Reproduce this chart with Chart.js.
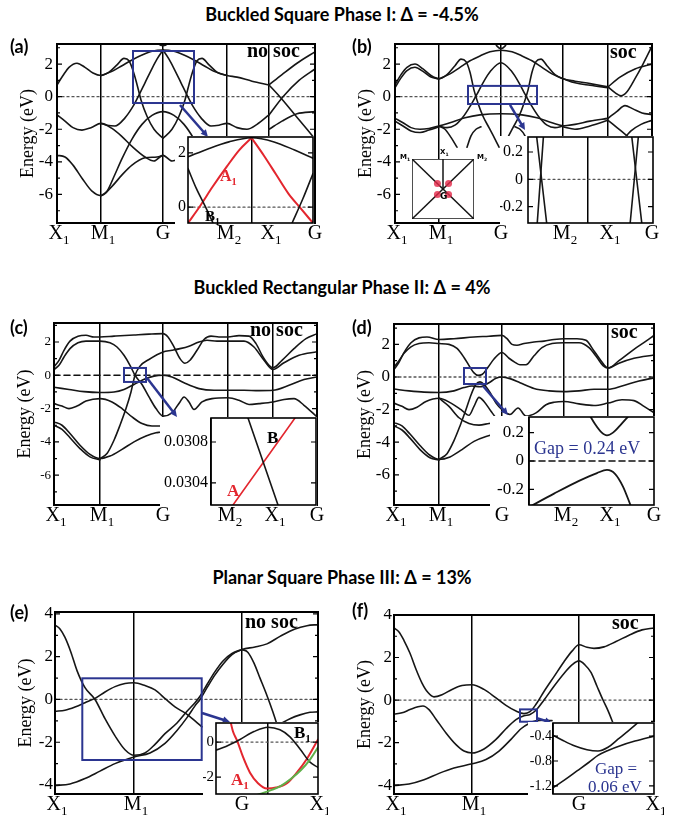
<!DOCTYPE html>
<html>
<head>
<meta charset="utf-8">
<script src="https://cdn.jsdelivr.net/npm/chart.js@4.4.0/dist/chart.umd.min.js"></script>
<style>
  body { margin: 0; background: #fff; width: 684px; height: 821px; position: relative; overflow: hidden; font-family: "Liberation Serif", serif; }
  canvas { position: absolute; }
  .t { position: absolute; white-space: nowrap; line-height: 1; z-index: 10; }
  .head { font-family: Lato, "Open Sans", sans-serif; font-weight: 700; font-size: 18px; left: 0; width: 684px; text-align: center; }
  .pl { font-family: Lato, "Open Sans", sans-serif; font-weight: 700; font-size: 18px; }
  .soc { font-weight: 700; font-size: 20px; }
  .lab { font-weight: 700; font-size: 16px; }
  .lab sub, .bz sub { font-size: 0.65em; }
  .gap { color: #2b3590; font-size: 18px; }
  .bz { font-family: "DejaVu Sans", sans-serif; font-weight: 700; font-size: 7px; }
</style>
</head>
<body>
<div class="t head" style="top:5px">Buckled Square Phase I: Δ = -4.5%</div>
<div class="t head" style="top:278px">Buckled Rectangular Phase II: Δ = 4%</div>
<div class="t head" style="top:568px">Planar Square Phase III: Δ = 13%</div>
<div class="t pl" style="left:10px;top:37px">(a)</div>
<div class="t pl" style="left:352px;top:37px">(b)</div>
<div class="t pl" style="left:10px;top:318px">(c)</div>
<div class="t pl" style="left:352px;top:318px">(d)</div>
<div class="t pl" style="left:10px;top:603px">(e)</div>
<div class="t pl" style="left:352px;top:601px">(f)</div>
<div class="t soc" style="left:247px;top:40px">no soc</div>
<div class="t soc" style="left:610px;top:41px">soc</div>
<div class="t soc" style="left:250px;top:319px">no soc</div>
<div class="t soc" style="left:611px;top:321px">soc</div>
<div class="t soc" style="left:245px;top:611px">no soc</div>
<div class="t soc" style="left:612px;top:612px">soc</div>
<div class="t lab" style="left:220px;top:168px;color:#e3262e">A<sub>1</sub></div>
<div class="t lab" style="left:205px;top:209px;font-size:15px">B<sub>1</sub></div>
<div class="t lab" style="left:267px;top:429px;font-size:17px">B</div>
<div class="t lab" style="left:227px;top:482px;font-size:17px;color:#e3262e">A</div>
<div class="t gap" style="left:534px;top:439px">Gap = 0.24 eV</div>
<div class="t lab" style="left:231px;top:771px;font-size:17px;color:#e3262e">A<sub>1</sub></div>
<div class="t lab" style="left:294px;top:724px;font-size:17px">B<sub>1</sub></div>
<div class="t gap" style="left:595px;top:760px;font-size:17px">Gap =</div>
<div class="t gap" style="left:588px;top:778px;font-size:17px">0.06 eV</div>
<div class="t bz" style="left:400px;top:154px">M<sub>1</sub></div>
<div class="t bz" style="left:440px;top:149px">X<sub>1</sub></div>
<div class="t bz" style="left:477px;top:154px">M<sub>2</sub></div>
<div class="t bz" style="left:440px;top:192px;font-size:9px">G</div>
<script>
var SERIF = '"Liberation Serif","DejaVu Serif",serif';
var BLACK = '#161616', RED = '#e3262e', GREEN = '#5fb04a', BLUE = '#2b3590';

// ---- tick positions / labels (k in px units along the path)
var sqTicks = [0, 44, 106, 170, 212, 258];
var sqTicksB = [0, 44, 106, 168, 213, 257];
var sqLabels = ['X1', 'M1', 'G', 'M2', 'X1', 'G'];
var rcTicks = [0, 46, 109, 174, 219, 263];
var rcTicksD = [0, 45, 108, 170, 214, 260];
var plTicks = [0, 79, 187, 263];
var plTicksF = [0, 78, 185, 260];
var plLabels = ['X1', 'M1', 'G', 'X1'];
var eTicksBuckled = [-6, -4, -2, 0, 2];
var eTicksPlanar = [-4, -2, 0, 2, 4];

// ---- (a) Buckled square, no soc
var aBands = [
  [[0,0.72],[6,1.3],[12,1.8],[20,2.05],[28,1.8],[36,1.45],[44,1.3],[52,1.5],[60,1.95],[67,2.35],[72,2.2],[76,1.6],[80,0.75],[84,-0.2],[90,-1.2],[97,-2.0],[106,-2.55]],
  [[106,-2.55],[115,-2.0],[122,-1.2],[128,-0.2],[132,0.75],[136,1.6],[140,2.2],[145,2.35],[152,1.95],[160,1.5],[170,1.3],[180,1.2],[195,0.95],[212,0.72]],
  [[44,1.3],[55,1.55],[65,1.9],[75,2.25],[85,2.55],[95,2.78],[106,2.86],[117,2.78],[127,2.55],[137,2.25],[147,1.9],[157,1.55],[170,1.3]],
  [[44,-1.64],[50,-1.75],[58,-1.8],[68,-1.3],[76,-0.6],[82,0.1],[88,0.85],[94,1.6],[100,2.3],[106,2.86]],
  [[106,2.86],[112,2.3],[118,1.6],[124,0.85],[130,0.1],[136,-0.6],[144,-1.3],[154,-1.8],[162,-1.75],[170,-1.64],[180,-1.9],[190,-2.0],[200,-1.7],[212,-1.12]],
  [[0,-1.12],[8,-1.5],[16,-1.9],[25,-2.05],[34,-1.9],[44,-1.64],[55,-1.95],[65,-2.45],[75,-3.05],[88,-3.7],[97,-3.95],[106,-3.6],[115,-3.95],[124,-3.7],[137,-3.05]],
  [[0,-3.6],[8,-3.7],[16,-4.2],[25,-5.0],[35,-5.8],[44,-6.07],[55,-5.5],[65,-4.8],[75,-4.2],[88,-3.75],[100,-3.7],[106,-3.6]],
  [[44,-6.07],[50,-5.8],[57,-4.9],[65,-3.8],[75,-2.6],[85,-1.7],[95,-1.15],[106,-0.92],[117,-1.15],[127,-1.7],[137,-2.6],[147,-3.8]],
  [[212,0.72],[225,1.35],[240,2.05],[258,2.75]],
  [[212,0.72],[222,0.05],[235,-0.9],[250,-2.0],[258,-2.6]],
  [[212,-1.12],[226,0.0],[242,1.0],[258,1.7]],
  [[212,-2.0],[225,-1.5],[240,-1.05],[258,-0.92]],
  [[96,3.6],[101,3.25],[106,3.12],[111,3.25],[116,3.6]]
];
var aInsetBlack = [
  [[75,1.85],[85,2.15],[95,2.4],[106,2.55],[117,2.4],[127,2.1],[136,1.8]],
  [[75,1.42],[79,0.7],[83.6,0],[87.2,-0.58]],
  [[125.8,-0.58],[131,0.3],[136,1.24]]
];
var aInsetRed = [
  [[75,-0.58],[80.5,0],[87,0.75],[94,1.5],[100,2.1],[106,2.55]],
  [[106,2.55],[112,1.9],[118,1.2],[124,0.5],[129.5,0],[136,-0.58]]
];

// ---- (b) Buckled square, soc
var bBands = [
  [[0,0.72],[6,1.35],[12,1.8],[20,2.0],[28,1.7],[36,1.3],[44,1.1],[52,1.35],[60,1.9],[66,2.3],[71,2.15],[75,1.5],[79,0.4],[83,-0.4],[88,-1.2],[94,-1.9],[100,-2.6],[104,-3.1]],
  [[108,-3.1],[112,-2.6],[118,-1.9],[124,-1.2],[129,-0.4],[133,0.4],[137,1.5],[141,2.15],[146,2.3],[152,1.9],[160,1.35],[168,1.1],[180,0.95],[195,0.8],[213,0.6]],
  [[0,0.55],[6,1.15],[12,1.6],[20,1.8],[28,1.55],[36,1.2],[44,1.1]],
  [[168,1.1],[180,0.85],[195,0.7],[213,0.55]],
  [[44,1.1],[55,1.4],[65,1.8],[75,2.2],[85,2.5],[95,2.75],[106,2.85],[117,2.75],[127,2.5],[137,2.2],[147,1.8],[157,1.4],[168,1.1]],
  [[44,-1.8],[52,-1.9],[60,-1.75],[68,-1.25],[76,-0.5],[82,0.15],[88,0.85],[96,1.6],[106,2.08],[116,1.6],[124,0.85],[130,0.15],[136,-0.5],[144,-1.25],[152,-1.75],[160,-1.9],[168,-1.8]],
  [[0,-1.33],[8,-1.6],[16,-1.9],[25,-2.0],[34,-1.95],[44,-1.8]],
  [[0,-1.5],[8,-1.8],[16,-2.1],[25,-2.2],[34,-2.05],[44,-1.85]],
  [[44,-1.8],[50,-2.0],[56,-2.5],[62,-3.1]],
  [[44,-1.8],[55,-1.6],[70,-1.3],[85,-1.12],[106,-1.05],[127,-1.12],[142,-1.3],[157,-1.6],[168,-1.8]],
  [[168,-1.8],[180,-1.7],[195,-1.5],[213,-1.33]],
  [[168,-1.85],[180,-2.0],[195,-1.8],[213,-1.45]],
  [[213,0.6],[220,0.25],[226,0.05],[232,0.3],[240,1.1],[248,2.0],[257,3.1]],
  [[213,0.6],[225,1.2],[240,1.7],[257,2.0]],
  [[213,-1.33],[222,-0.9],[230,-0.55],[238,-0.75],[247,-1.0],[257,-1.1]],
  [[213,-1.45],[222,-1.9],[232,-2.4],[240,-2.8]],
  [[226,-2.8],[236,-2.1],[246,-1.7],[257,-1.45]],
  [[98,3.5],[102,3.1],[106,2.95],[110,3.1],[114,3.5]],
  [[72,-3.1],[76,-2.4],[81,-2.0],[86,-1.85]],
  [[120,-1.85],[125,-2.0],[130,-2.4],[134,-3.1]]
];
var bInset = [
  [[77.8,0.31],[83.3,-0.32]], [[78.1,-0.32],[81.5,0.31]],
  [[130.3,0.31],[135.8,-0.32]], [[129.4,-0.32],[133.9,0.31]]
];
var bzFrame = [[0,0],[1,0],[1,1],[0,1],[0,0]];
var bzDiag1 = [[0,0],[1,1]];
var bzDiag2 = [[0,1],[1,0]];
var bzStem = [[0.5,1],[0.5,0.5]];
var bzDots = [[0.41,0.59],[0.59,0.59],[0.41,0.41],[0.59,0.41]];

// ---- (c) Buckled rectangular, no soc
var cBands = [
  [[0,0.5],[5,0.9],[10,1.5],[16,2.05],[24,2.35],[32,2.4],[40,2.3],[46,2.3],[60,2.35],[80,2.42],[95,2.47],[109,2.5],[114,2.3],[120,1.7],[126,1.0],[131,0.72],[136,0.9],[143,1.5],[150,2.15],[157,2.35],[165,2.3],[174,2.3],[185,2.38],[195,2.35],[202,1.9],[209,1.1],[215,0.6],[219,0.45],[228,0.9],[240,1.6],[252,2.2],[263,2.5]],
  [[0,0.35],[5,0.6],[10,1.1],[16,1.6],[24,1.95],[32,2.05],[46,2.05],[56,1.95],[63,1.7],[70,1.2],[76,0.6],[81,0.0],[88,-0.55],[95,-1.3],[102,-2.0],[109,-2.45],[118,-2.25],[126,-1.6],[130,-1.3],[135,-1.6],[140,-2.05],[148,-1.6],[158,-1.4],[174,-1.35],[185,-1.5],[195,-1.75],[205,-1.7],[219,-1.6],[230,-1.45],[240,-1.4],[250,-1.8],[263,-2.5]],
  [[46,-5.0],[53,-4.7],[60,-3.9],[66,-3.0],[72,-2.0],[77,-1.0],[81,0.0],[86,0.55],[95,0.95],[109,1.4],[118,1.5],[126,1.6],[135,1.75],[145,2.0],[153,2.1],[163,2.05],[174,2.05],[190,2.05],[200,1.7],[210,0.9],[219,0.35],[230,0.75],[245,1.2],[263,1.41]],
  [[0,-0.72],[15,-0.85],[30,-0.98],[46,-1.03],[60,-1.0],[70,-0.85],[80,-0.55],[92,-0.2],[100,-0.05],[109,0.0],[118,-0.1],[130,-0.45],[145,-0.8],[160,-0.9],[174,-0.9],[190,-0.9],[205,-0.92],[219,-0.9],[235,-0.6],[250,-0.25],[263,-0.1]],
  [[0,-1.7],[8,-1.85],[15,-2.0],[23,-1.85],[32,-1.55],[46,-1.4],[58,-1.6],[68,-2.0],[78,-2.5],[88,-2.9],[98,-3.05],[106,-3.05]],
  [[0,-2.8],[8,-3.0],[16,-3.5],[26,-4.2],[36,-4.75],[46,-5.0],[56,-4.85],[68,-4.45],[80,-4.0],[92,-3.65],[102,-3.45],[106,-3.42]],
  [[0,-3.0],[8,-3.25],[16,-3.75],[26,-4.4],[36,-4.9],[46,-5.08]]
];
var cInsetA = [[22,0.030185],[84,0.031034]];
var cInsetB = [[37,0.031034],[67,0.030185]];
var cInsetTicks = [0.0304, 0.0308];

// ---- (d) Buckled rectangular, soc
var dBands = [
  [[0,0.45],[5,0.9],[10,1.5],[17,2.1],[25,2.4],[33,2.45],[45,2.3],[60,2.35],[80,2.45],[95,2.5],[108,2.55],[113,2.35],[118,2.0],[123,1.95],[130,2.05],[140,2.15],[150,2.2],[160,2.3],[170,2.35],[183,2.35],[192,2.25],[200,1.6],[207,1.0],[214,0.55],[225,1.0],[240,1.7],[252,2.2],[260,2.55]],
  [[0,0.6],[5,1.0],[10,1.45],[17,1.85],[25,2.05],[35,2.1],[45,2.05],[55,2.0],[63,1.75],[70,1.2],[76,0.6],[80,0.25],[84,0.1],[88,0.15],[94,0.6],[100,1.1],[108,1.5],[115,1.15],[121,0.9],[126,0.75],[132,0.75],[140,1.3],[148,1.8],[158,2.05],[170,2.1],[185,2.1],[195,1.8],[203,1.2],[209,0.7],[214,0.55],[225,0.85],[240,1.15],[260,1.35]],
  [[45,-5.05],[53,-4.7],[60,-3.9],[66,-3.0],[72,-2.0],[77,-1.1],[82,-0.45],[86,-0.3],[90,-0.45],[96,-0.95],[102,-1.6],[108,-2.0],[116,-2.3],[124,-1.9],[132,-2.4],[142,-2.2],[152,-1.7],[160,-1.55],[170,-1.5],[185,-1.65],[200,-1.75],[214,-1.6],[228,-1.4],[240,-1.45],[250,-1.8],[260,-2.2]],
  [[0,-0.74],[15,-0.85],[30,-0.93],[45,-0.95],[60,-0.85],[70,-0.65],[78,-0.55],[86,-0.6],[95,-0.35],[102,-0.08],[108,0.0],[116,-0.1],[126,-0.35],[140,-0.7],[155,-0.85],[170,-0.9],[185,-0.85],[200,-0.75],[214,-0.75],[228,-0.55],[245,-0.25],[260,-0.05]],
  [[0,-1.6],[8,-1.8],[15,-2.0],[23,-1.85],[32,-1.5],[45,-1.3],[57,-1.6],[67,-2.0],[75,-2.35],[80,-1.8],[85,-1.25],[90,-1.5],[97,-2.1],[102,-2.5],[108,-2.75]],
  [[0,-2.8],[8,-3.0],[16,-3.5],[26,-4.2],[36,-4.8],[45,-5.05],[56,-4.9],[68,-4.45],[80,-3.95],[92,-3.65],[102,-3.5],[106,-3.48]],
  [[0,-3.0],[8,-3.25],[16,-3.75],[26,-4.45],[36,-4.95],[45,-5.1]],
  [[45,-1.3],[55,-1.8],[65,-2.5],[75,-2.85],[85,-2.95],[95,-2.85],[106,-2.75]]
];
var dInsetTop = [[60,0.33],[66,0.26],[72,0.205],[78,0.18],[84,0.2],[91,0.25],[100,0.32]];
var dInsetBot = [[0,-0.325],[25,-0.23],[50,-0.14],[68,-0.085],[78,-0.063],[86,-0.09],[94,-0.18],[102,-0.32]];
var smallTicks = [-0.2, 0, 0.2];

// ---- (e) Planar square, no soc
var eBands = [
  [[0,3.48],[5,3.3],[10,2.9],[16,2.2],[22,1.35],[30,0.55],[40,0.0],[50,-0.9],[60,-1.7],[70,-2.35],[79,-2.61],[90,-2.5],[100,-2.1],[110,-1.6],[122,-1.1],[132,-0.55],[140,-0.15],[145,0.15],[152,0.7],[160,1.3],[168,1.8],[177,2.15],[187,2.34]],
  [[187,2.34],[193,2.2],[199,1.7],[205,1.0],[211,0.3],[218,-0.6],[225,-1.6],[232,-2.5]],
  [[0,-4.02],[15,-3.95],[30,-3.7],[45,-3.35],[60,-3.0],[79,-2.69],[95,-2.5],[110,-2.05],[122,-1.45],[132,-0.85],[140,-0.3],[145,0.0],[152,0.55],[160,1.15],[168,1.65],[177,2.1],[187,2.34],[200,2.45],[212,2.6],[225,2.95],[240,3.3],[252,3.45],[263,3.5]],
  [[0,-0.55],[10,-0.5],[20,-0.35],[30,-0.15],[40,0.05],[50,0.35],[60,0.6],[70,0.75],[79,0.78],[90,0.65],[100,0.45],[111,0.0],[120,-0.35],[131,-0.66],[140,-1.0],[147,-1.28]],
  [[225,-1.15],[235,-0.9],[245,-0.72],[255,-0.6],[263,-0.58]]
];
var eInsetB1 = [[0,-0.46],[10,-0.25],[24,0.15],[38,0.6],[52,0.85],[64,0.7],[74,0.3],[84,-0.4],[94,-1.15],[102,-1.45]];
var eInsetA1 = [[14,1.3],[17,0.6],[21,0.1],[27,-0.85],[34,-1.75],[42,-2.35],[51,-2.65],[60,-2.6],[71,-2.35],[80,-1.8],[91,-0.95],[102,0.15]];
var eInsetGreen = [[37,-3.1],[45,-2.95],[55,-2.75],[65,-2.5],[75,-2.1],[85,-1.6],[94,-1.0],[102,-0.3]];

// ---- (f) Planar square, soc
var fBands = [
  [[0,3.39],[5,3.2],[10,2.8],[16,2.2],[22,1.45],[28,0.8],[34,0.35],[40,0.15],[48,0.25],[58,0.5],[68,0.68],[78,0.72],[90,0.5],[102,0.1],[112,-0.25],[122,-0.52],[130,-0.64],[136,-0.55],[142,-0.2],[150,0.4],[160,1.1],[170,1.8],[178,2.3],[185,2.6],[193,2.48],[200,2.43],[210,2.5],[222,2.75],[235,3.05],[248,3.3],[260,3.39]],
  [[0,-0.66],[8,-0.6],[16,-0.45],[24,-0.32],[29,-0.28],[35,-0.45],[42,-0.9],[52,-1.55],[62,-2.1],[70,-2.4],[78,-2.49],[90,-2.3],[102,-1.85],[112,-1.35],[122,-0.92],[130,-0.74],[136,-0.68],[142,-0.48],[150,0.0],[160,0.65],[170,1.25],[178,1.65],[185,1.84],[191,1.65],[197,1.3],[203,0.65],[209,0.0],[214,-0.5],[220,-1.2]],
  [[0,-4.02],[15,-3.95],[30,-3.75],[45,-3.45],[60,-3.2],[78,-3.0],[92,-2.8],[105,-2.4],[117,-1.85],[127,-1.35],[135,-1.1],[142,-0.98],[150,-0.95],[158,-0.97]]
];
var fInsetUp = [[0,-0.385],[10,-0.47],[22,-0.56],[34,-0.62],[45,-0.64],[55,-0.58],[65,-0.45],[75,-0.32],[86,-0.17]];
var fInsetLow = [[0,-1.23],[12,-1.1],[24,-0.96],[36,-0.82],[45,-0.71],[55,-0.63],[68,-0.55],[82,-0.48],[101,-0.4]];
var fInsetTicks = [-1.2, -0.8, -0.4];

// ---- zoom boxes [k1,k2,E1,E2] and arrows [k1,E1,k2,E2]
var aBox = [76, 137, 2.8, -0.39], aArrow = [123, -0.51, 151, -2.47];
var bBox = [73, 142, 0.66, -0.45], bArrow = [115, -0.51, 130, -2.05];
var cBox = [70, 92, 0.44, -0.4], cArrow = [93, -0.16, 123, -2.5];
var dBox = [70, 92, 0.55, -0.43], dArrow = [89, -0.55, 114, -2.33];
var eBox = [27.3, 146.7, 0.99, -2.83], eArrow = [147, -0.63, 175, -1.05];
var fBox = [126, 143, -0.44, -1.02], fArrow = [143, -0.85, 158, -1.08];

function blk(list, w) { return list.map(function(d) { return { d: d, c: BLACK, w: w }; }); }
function pts(arr) { return arr.map(function(p) { return { x: p[0], y: p[1] }; }); }

function makeDeco(o) {
  return {
    id: 'deco',
    beforeDraw: function(c) {
      if (!o.white) return;
      var g = c.ctx;
      g.save(); g.fillStyle = '#fff'; g.fillRect(0, 0, c.width, c.height); g.restore();
    },
    afterDatasetsDraw: function(c) {
      var g = c.ctx, a = c.chartArea, ys = c.scales.y;
      g.save();
      g.strokeStyle = '#000';
      g.lineWidth = 1.2;
      g.beginPath();
      o.yTicks.forEach(function(v) {
        var y = ys.getPixelForValue(v);
        g.moveTo(a.left, y); g.lineTo(a.left + 5, y);
        g.moveTo(a.right, y); g.lineTo(a.right - 5, y);
      });
      if (o.minor) {
        var st = o.yTicks[1] - o.yTicks[0];
        for (var v = o.yTicks[0] - st / 2; v < ys.max; v += st) {
          if (v < ys.min) continue;
          var y = ys.getPixelForValue(v);
          g.moveTo(a.left, y); g.lineTo(a.left + 3, y);
          g.moveTo(a.right, y); g.lineTo(a.right - 3, y);
        }
      }
      g.stroke();
      g.lineWidth = o.fw || 2;
      g.strokeRect(a.left, a.top, a.right - a.left, a.bottom - a.top);
      g.restore();
    },
    afterDraw: function(c) {
      var g = c.ctx, a = c.chartArea, xs = c.scales.x, ys = c.scales.y;
      g.save();
      if (o.kLabels) {
        g.fillStyle = '#000'; g.textBaseline = 'alphabetic';
        o.kTicks.forEach(function(k, i) {
          var lab = o.kLabels[i], main = lab.charAt(0), sub = lab.slice(1);
          g.font = '20px ' + SERIF; var w1 = g.measureText(main).width;
          g.font = '13px ' + SERIF; var w2 = sub ? g.measureText(sub).width : 0;
          var x0 = xs.getPixelForValue(k) - (w1 + w2) / 2 + (sub ? 2 : 0), y0 = a.bottom + 16;
          g.font = '20px ' + SERIF; g.fillText(main, x0, y0);
          if (sub) { g.font = '13px ' + SERIF; g.fillText(sub, x0 + w1, y0 + 5); }
        });
      }
      if (o.box) {
        var b = o.box;
        var x1 = xs.getPixelForValue(b[0]), x2 = xs.getPixelForValue(b[1]);
        var y1 = ys.getPixelForValue(b[2]), y2 = ys.getPixelForValue(b[3]);
        g.strokeStyle = BLUE; g.lineWidth = 2;
        g.strokeRect(x1, y1, x2 - x1, y2 - y1);
      }
      if (o.arrow) {
        var r = o.arrow;
        var ax = xs.getPixelForValue(r[0]), ay = ys.getPixelForValue(r[1]);
        var bx = xs.getPixelForValue(r[2]), by = ys.getPixelForValue(r[3]);
        var ang = Math.atan2(by - ay, bx - ax), hl = 8;
        g.strokeStyle = BLUE; g.fillStyle = BLUE; g.lineWidth = 2.5;
        g.beginPath(); g.moveTo(ax, ay);
        g.lineTo(bx - Math.cos(ang) * hl * 0.7, by - Math.sin(ang) * hl * 0.7); g.stroke();
        g.beginPath(); g.moveTo(bx, by);
        g.lineTo(bx - hl * Math.cos(ang - 0.45), by - hl * Math.sin(ang - 0.45));
        g.lineTo(bx - hl * Math.cos(ang + 0.45), by - hl * Math.sin(ang + 0.45));
        g.closePath(); g.fill();
      }
      g.restore();
    }
  };
}

function bandPanel(o) {
  var pt = o.pt == null ? 6 : o.pt, pr = o.pr == null ? 10 : o.pr, xh = o.xh == null ? 30 : o.xh;
  var cv = document.createElement('canvas');
  var left = o.l - o.yw, top = o.t - pt;
  cv.width = o.r - left + pr; cv.height = o.b - top + xh;
  cv.style.left = left + 'px'; cv.style.top = top + 'px'; cv.style.zIndex = o.z || 1;
  document.body.appendChild(cv);
  var ds = [];
  o.series.forEach(function(s) {
    ds.push({ data: pts(s.d), borderColor: s.c, borderWidth: s.w || 1.6, showLine: true, pointRadius: 0, fill: false });
  });
  if (o.zero) {
    var dot = o.zero === 'dot';
    ds.push({ data: pts([[o.xMin, 0], [o.xMax, 0]]), borderColor: dot ? '#555' : '#111', borderDash: dot ? [2, 3] : [6, 4],
      borderWidth: dot ? 1.3 : 1.6, showLine: true, pointRadius: 0, tension: 0, cubicInterpolationMode: 'default' });
  }
  return new Chart(cv, {
    type: 'scatter',
    data: { datasets: ds },
    options: {
      responsive: false, animation: false, devicePixelRatio: 1, events: [],
      layout: { padding: { left: 0, top: pt, right: pr, bottom: 0 } },
      elements: { line: { tension: 0.4, cubicInterpolationMode: 'monotone', borderCapStyle: 'round', borderJoinStyle: 'round' } },
      plugins: { legend: { display: false }, tooltip: { enabled: false } },
      scales: {
        x: {
          type: 'linear', min: o.xMin, max: o.xMax,
          afterBuildTicks: function(s) { s.ticks = o.kTicks.map(function(v) { return { value: v }; }); },
          afterFit: function(s) { s.height = xh; s.paddingLeft = 0; s.paddingRight = 0; },
          ticks: { display: false, autoSkip: false },
          grid: { color: '#000', lineWidth: 1.5, drawTicks: false },
          border: { display: false }
        },
        y: {
          type: 'linear', min: o.yMin, max: o.yMax,
          afterBuildTicks: function(s) { s.ticks = o.yTicks.map(function(v) { return { value: v }; }); },
          afterFit: function(s) { s.width = o.yw; s.paddingTop = 0; s.paddingBottom = 0; },
          ticks: { autoSkip: false, color: '#000', padding: o.tp == null ? 4 : o.tp, font: { family: SERIF, size: o.tf || 17 },
            callback: function(v, i) { return o.yLabels ? o.yLabels[i] : String(v); } },
          grid: { display: false, drawTicks: false },
          border: { display: false },
          title: { display: !!o.title, text: 'Energy (eV)', color: '#000', padding: 0, font: { family: SERIF, size: 18 } }
        }
      }
    },
    plugins: [makeDeco(o)]
  });
}

// ---- main panels
bandPanel({ l: 57, t: 44, r: 315, b: 223, yw: 40, xMin: 0, xMax: 258, yMin: -7.75, yMax: 3.23,
  kTicks: sqTicks, kLabels: sqLabels, yTicks: eTicksBuckled, series: blk(aBands), zero: 'dot', title: true, minor: true, box: aBox, arrow: aArrow });
bandPanel({ l: 395, t: 44, r: 652, b: 223, yw: 40, xMin: 0, xMax: 257, yMin: -7.75, yMax: 3.23,
  kTicks: sqTicksB, kLabels: sqLabels, yTicks: eTicksBuckled, series: blk(bBands), zero: 'dot', title: true, minor: true, box: bBox, arrow: bArrow });
bandPanel({ l: 54, t: 323, r: 317, b: 505, yw: 40, xMin: 0, xMax: 263, yMin: -7.79, yMax: 3.14, tf: 13, tp: 3,
  kTicks: rcTicks, kLabels: sqLabels, yTicks: eTicksBuckled, series: blk(cBands), zero: 'dash', title: true, minor: true, box: cBox, arrow: cArrow });
bandPanel({ l: 394, t: 324, r: 654, b: 505, yw: 40, xMin: 0, xMax: 260, yMin: -7.85, yMax: 3.25,
  kTicks: rcTicksD, kLabels: sqLabels, yTicks: eTicksBuckled, series: blk(dBands), zero: 'dot', title: true, minor: true, box: dBox, arrow: dArrow });
bandPanel({ l: 55, t: 612, r: 318, b: 794, yw: 40, xMin: 0, xMax: 263, yMin: -4.42, yMax: 4.09, tp: 2,
  kTicks: plTicks, kLabels: plLabels, yTicks: eTicksPlanar, series: blk(eBands), zero: 'dot', title: true, minor: true, box: eBox, arrow: eArrow });
bandPanel({ l: 394, t: 615, r: 654, b: 794, yw: 40, xMin: 0, xMax: 260, yMin: -4.42, yMax: 4.0, tp: 2,
  kTicks: plTicksF, kLabels: plLabels, yTicks: eTicksPlanar, series: blk(fBands), zero: 'dot', title: true, minor: true, box: fBox, arrow: fArrow });

// ---- insets
bandPanel({ l: 188, t: 137, r: 313, b: 223, yw: 13, pt: 1, pr: 1, xh: 1, z: 3, white: true, xMin: 75, xMax: 136, yMin: -0.58, yMax: 2.58,
  kTicks: [106], yTicks: [0, 2], tf: 16, tp: 2, fw: 1.6, zero: 'dot',
  series: blk(aInsetBlack).concat(aInsetRed.map(function(d) { return { d: d, c: RED, w: 2 }; })) });
bandPanel({ l: 528, t: 137, r: 653, b: 223, yw: 28, pt: 1, pr: 1, xh: 1, z: 3, white: true, xMin: 73, xMax: 142, yMin: -0.32, yMax: 0.31,
  kTicks: [106], yTicks: smallTicks, yLabels: ['-0.2', '0', '0.2'], tf: 16, tp: 5, fw: 1.6, zero: 'dot', series: blk(bInset) });
bandPanel({ l: 211, t: 418, r: 316, b: 505, yw: 51, pt: 1, pr: 1, xh: 1, z: 3, white: true, xMin: 0, xMax: 105, yMin: 0.030185, yMax: 0.031034,
  kTicks: [0], yTicks: cInsetTicks, yLabels: ['0.0304', '0.0308'], tf: 16, tp: 3, fw: 1.6,
  series: [{ d: cInsetB, c: BLACK }, { d: cInsetA, c: RED }] });
bandPanel({ l: 529, t: 417, r: 654, b: 505, yw: 39, pt: 1, pr: 1, xh: 1, z: 3, white: true, xMin: 0, xMax: 125, yMin: -0.31, yMax: 0.31,
  kTicks: [0], yTicks: smallTicks, yLabels: ['-0.2', '0', '0.2'], tf: 17, tp: 5, fw: 1.6, zero: 'dash',
  series: blk([dInsetTop, dInsetBot], 1.8) });
bandPanel({ l: 216, t: 723, r: 318, b: 794, yw: 13, pt: 1, pr: 1, xh: 1, z: 3, white: true, xMin: 0, xMax: 102, yMin: -2.97, yMax: 1.09,
  kTicks: [52], yTicks: [-2, 0], tf: 15, tp: 2, fw: 1.6, zero: 'dot',
  series: [{ d: eInsetGreen, c: GREEN, w: 2 }, { d: eInsetB1, c: BLACK }, { d: eInsetA1, c: RED, w: 2 }] });
bandPanel({ l: 553, t: 723, r: 654, b: 794, yw: 25, pt: 1, pr: 1, xh: 1, z: 3, white: true, xMin: 0, xMax: 101, yMin: -1.33, yMax: -0.19,
  kTicks: [0], yTicks: fInsetTicks, yLabels: ['-1.2', '-0.8', '-0.4'], tf: 14, tp: 1, fw: 1.6,
  series: blk([fInsetUp, fInsetLow]) });

// ---- Brillouin zone sketch in (b)
(function() {
  var cv = document.createElement('canvas');
  cv.width = 73; cv.height = 71;
  cv.style.left = '405px'; cv.style.top = '152px'; cv.style.zIndex = 2;
  document.body.appendChild(cv);
  function seg(arr) { return { data: pts(arr), borderColor: BLACK, borderWidth: 1.5, showLine: true, pointRadius: 0, tension: 0 }; }
  new Chart(cv, {
    type: 'scatter',
    data: { datasets: [
      { data: pts(bzDots), pointRadius: 3.5, pointBackgroundColor: 'rgba(228,40,72,0.8)', pointBorderWidth: 0, showLine: false },
      seg(bzFrame), seg(bzDiag1), seg(bzDiag2), seg(bzStem)
    ] },
    options: {
      responsive: false, animation: false, devicePixelRatio: 1, events: [],
      layout: { padding: { left: 7, top: 7, right: 3, bottom: 3 } },
      plugins: { legend: { display: false }, tooltip: { enabled: false } },
      scales: { x: { display: false, min: 0, max: 1 }, y: { display: false, min: 0, max: 1 } }
    },
    plugins: [{ id: 'bg', beforeDraw: function(c) { var a = c.chartArea; c.ctx.save(); c.ctx.fillStyle = '#fff'; c.ctx.fillRect(a.left, a.top, a.right - a.left, a.bottom - a.top); c.ctx.restore(); } }]
  });
})();
</script>
</body>
</html>
